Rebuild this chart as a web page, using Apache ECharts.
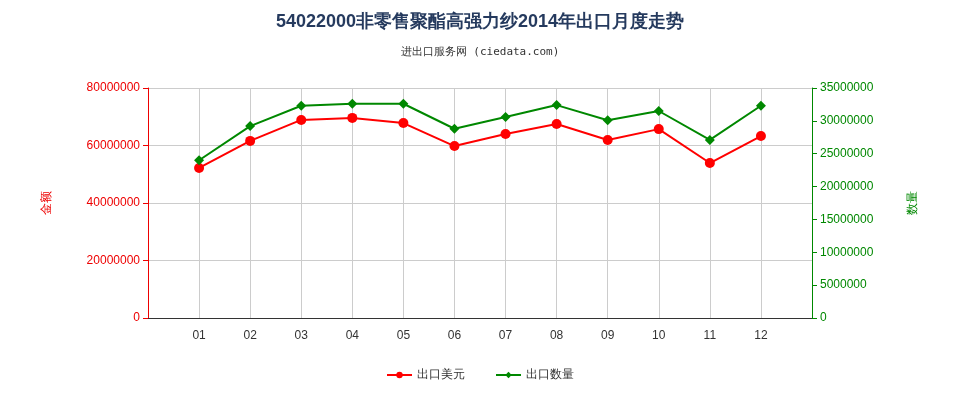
<!DOCTYPE html>
<html><head><meta charset="utf-8">
<script src="https://cdn.jsdelivr.net/npm/echarts@6/dist/echarts.min.js"></script>
<style>html,body{margin:0;padding:0;background:#fff}#c{width:960px;height:400px}</style>
</head><body><div id="c"></div>
<script>
const categories = ["", "01","02","03","04","05","06","07","08","09","10","11","12", ""];
const usdValues = [null, 52200000, 61600000, 68900000, 69600000, 67800000, 59800000, 64000000, 67500000, 61900000, 65700000, 53900000, 63300000, null];
const qtyValues = [null, 24000000, 29200000, 32300000, 32600000, 32600000, 28800000, 30600000, 32400000, 30100000, 31500000, 27100000, 32300000, null];
const chart = echarts.init(document.getElementById('c'));
chart.setOption({
  animation:false,
  title:{text:'54022000非零售聚酯高强力纱2014年出口月度走势',subtext:'进出口服务网 (ciedata.com)',left:'center',top:8,
    textStyle:{fontSize:18,fontWeight:'bold',color:'#253a5e'},subtextStyle:{fontSize:11,color:'#333',fontFamily:'monospace'},itemGap:16},
  legend:{bottom:14,itemGap:30,textStyle:{fontSize:12,color:'#333'},itemWidth:25,itemHeight:8,data:['出口美元','出口数量']},
  grid:{left:148,right:148,top:88,bottom:82},
  xAxis:{type:'category',data:categories,boundaryGap:false,
    axisLine:{lineStyle:{color:'#333'}},axisTick:{show:false},
    axisLabel:{color:'#333',fontSize:12,interval:0,margin:12},
    splitLine:{show:true,lineStyle:{color:'#ccc'}}},
  yAxis:[
    {type:'value',min:0,max:80000000,interval:20000000,name:'金额',nameLocation:'middle',nameGap:95,
     nameTextStyle:{color:'#e00',fontSize:12},
     axisLine:{show:true,lineStyle:{color:'#e00'}},axisTick:{show:true},
     axisLabel:{color:'#e00',fontSize:12,formatter:v=>String(v)},splitLine:{lineStyle:{color:'#ccc'}}},
    {type:'value',min:0,max:35000000,interval:5000000,name:'数量',nameLocation:'middle',nameGap:95,
     nameTextStyle:{color:'#080',fontSize:12},
     axisLine:{show:true,lineStyle:{color:'#080'}},axisTick:{show:true},
     axisLabel:{color:'#080',fontSize:12,formatter:v=>String(v)},splitLine:{show:false}}
  ],
  series:[
    {name:'出口美元',type:'line',data:usdValues,yAxisIndex:0,symbol:'circle',symbolSize:10,
     itemStyle:{color:'#f00'},lineStyle:{color:'#f00',width:2}},
    {name:'出口数量',type:'line',data:qtyValues,yAxisIndex:1,symbol:'diamond',symbolSize:10,
     itemStyle:{color:'#080'},lineStyle:{color:'#080',width:2}}
  ]
});
</script></body></html>
